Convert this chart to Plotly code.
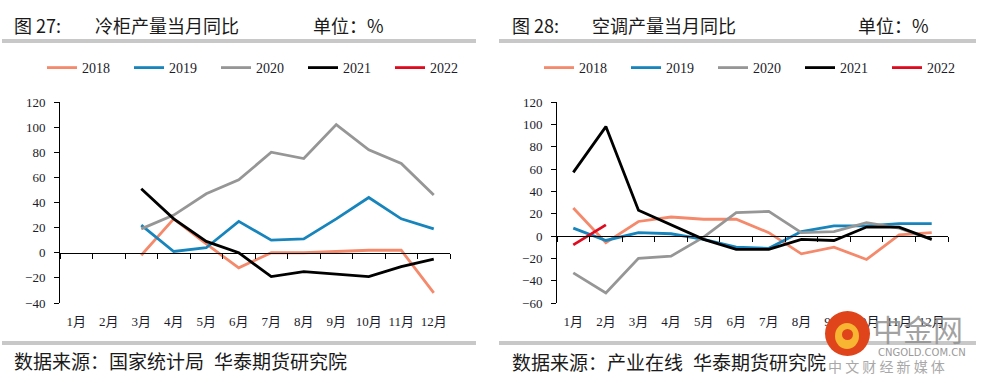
import plotly.graph_objects as go

# ---------------- data ----------------
months = ["1月", "2月", "3月", "4月", "5月", "6月", "7月", "8月", "9月", "10月", "11月", "12月"]
month_num = list(range(1, 13))
years = ["2018", "2019", "2020", "2021", "2022"]

# 冷柜产量当月同比 (%)
fridge_2018 = [None, None, -2, 27, 7, -12, 0, 0, 1, 2, 2, -32]
fridge_2019 = [None, None, 22, 1, 4, 25, 10, 11, 27, 44, 27, 19]
fridge_2020 = [None, None, 19, 30, 47, 58, 80, 75, 102, 82, 71, 46]
fridge_2021 = [None, None, 51, 27, 9, 0, -19, -15, -17, -19, -11, -5]
fridge_2022 = [None] * 12

# 空调产量当月同比 (%)
ac_2018 = [25, -6, 13, 17, 15, 15, 3, -16, -10, -21, 1, 3]
ac_2019 = [7, -4, 3, 2, -3, -10, -11, 4, 9, 9, 11, 11]
ac_2020 = [-33, -51, -20, -18, -1, 21, 22, 3, 4, 12, 7, -3]
ac_2021 = [57, 98, 23, 10, -3, -12, -12, -3, -4, 8, 8, -3]
ac_2022 = [-8, 10, None, None, None, None, None, None, None, None, None, None]

fridge_series = [fridge_2018, fridge_2019, fridge_2020, fridge_2021, fridge_2022]
ac_series = [ac_2018, ac_2019, ac_2020, ac_2021, ac_2022]

left_yrange = [-40, 120]
right_yrange = [-60, 120]

# ---------------- style ----------------
colors = ["#F4896B", "#1785BC", "#969696", "#000000", "#E00A1E"]
W, H = 981, 383
serif = "Liberation Serif, Times New Roman, Noto Sans CJK SC, serif"
cjk = "Noto Sans CJK SC, serif"
txt_color = "#1c1c2a"

ydom = [1 - 303 / H, 1 - 102 / H]
left_dom = [60 / W, 450 / W]
right_dom = [557 / W, 948 / W]


def zero_pos(rng):
    return ydom[0] + (0 - rng[0]) / (rng[1] - rng[0]) * (ydom[1] - ydom[0])


fig = go.Figure()

for yr, vals, c in zip(years, fridge_series, colors):
    fig.add_trace(go.Scatter(x=month_num, y=vals, mode="lines", name=yr,
                             line=dict(color=c, width=2.8), xaxis="x", yaxis="y",
                             legend="legend", connectgaps=False))
for yr, vals, c in zip(years, ac_series, colors):
    fig.add_trace(go.Scatter(x=month_num, y=vals, mode="lines", name=yr,
                             line=dict(color=c, width=2.8), xaxis="x2", yaxis="y2",
                             legend="legend2", connectgaps=False))

# empty traces to carry the zero-line axes
fig.add_trace(go.Scatter(x=[None], y=[None], xaxis="x3", yaxis="y", showlegend=False))
fig.add_trace(go.Scatter(x=[None], y=[None], xaxis="x4", yaxis="y2", showlegend=False))

boundary_vals = [m + 0.5 for m in [0] + month_num]

common_x = dict(range=[0.5, 12.5], showgrid=False, zeroline=False, showline=False,
                tickmode="array", tickvals=month_num, ticktext=months, ticks="", tickangle=0,
                tickfont=dict(family=serif, size=13, color=txt_color), ticklabelstandoff=9)
common_zero = dict(range=[0.5, 12.5], showgrid=False, zeroline=False, showline=True,
                   linecolor="#000", linewidth=1, tickmode="array", tickvals=boundary_vals,
                   ticks="outside", ticklen=5, tickcolor="#000", showticklabels=False,
                   anchor="free")
common_y = dict(showgrid=False, zeroline=False, showline=True, linecolor="#000", linewidth=1,
                ticks="outside", ticklen=5, tickcolor="#000", dtick=20,
                tickfont=dict(family=serif, size=13, color=txt_color), ticklabelstandoff=6)

legend_common = dict(orientation="h", xanchor="left", yanchor="middle",
                     entrywidth=42, entrywidthmode="pixels", bgcolor="rgba(0,0,0,0)",
                     font=dict(family=serif, size=14, color=txt_color), itemclick=False)

fig.update_layout(
    width=W, height=H, margin=dict(l=0, r=0, t=0, b=0, autoexpand=False),
    paper_bgcolor="white", plot_bgcolor="white",
    xaxis=dict(domain=left_dom, anchor="y", **common_x),
    yaxis=dict(domain=ydom, anchor="x", range=left_yrange, **common_y),
    xaxis2=dict(domain=right_dom, anchor="y2", **common_x),
    yaxis2=dict(domain=ydom, anchor="x2", range=right_yrange, **common_y),
    xaxis3=dict(overlaying="x", position=zero_pos(left_yrange), **common_zero),
    xaxis4=dict(overlaying="x2", position=zero_pos(right_yrange), **common_zero),
    legend=dict(x=42 / W, y=1 - 68 / H, **legend_common),
    legend2=dict(x=539 / W, y=1 - 68 / H, **legend_common),
    showlegend=True,
)

# separator bars
for x0, x1 in [(2, 476), (499, 976)]:
    fig.add_shape(type="line", xref="paper", yref="paper", x0=x0 / W, x1=x1 / W,
                  y0=1 - 41 / H, y1=1 - 41 / H, line=dict(color="#C8C8C8", width=4))
    fig.add_shape(type="line", xref="paper", yref="paper", x0=x0 / W, x1=x1 / W,
                  y0=1 - 343 / H, y1=1 - 343 / H, line=dict(color="#C8C8C8", width=4))


def ann(text, x, y, size=18, family=cjk, color="#1a1a1a", xanchor="left"):
    fig.add_annotation(text=text, x=x / W, y=1 - y / H, xref="paper", yref="paper",
                       xanchor=xanchor, yanchor="middle", showarrow=False,
                       font=dict(family=family, size=size, color=color))


# titles
ann("图 27:", 12, 25)
ann("冷柜产量当月同比", 93, 25)
ann("单位：%", 311, 25)
ann("图 28:", 510, 25)
ann("空调产量当月同比", 590, 25)
ann("单位：%", 856, 25)

# sources
ann("数据来源：国家统计局", 12, 360, size=19)
ann("华泰期货研究院", 212, 360, size=19)
ann("数据来源：产业在线", 510, 361, size=19)
ann("华泰期货研究院", 691, 361, size=19)

# watermark
fig.add_shape(type="circle", xref="paper", yref="paper",
              x0=825 / W, x1=870 / W, y0=1 - 356 / H, y1=1 - 311 / H,
              fillcolor="#E0441B", line=dict(width=0))
fig.add_shape(type="circle", xref="paper", yref="paper",
              x0=835 / W, x1=859 / W, y0=1 - 349 / H, y1=1 - 323 / H,
              fillcolor="#F7B531", line=dict(width=0))
fig.add_shape(type="circle", xref="paper", yref="paper",
              x0=842 / W, x1=853 / W, y0=1 - 340 / H, y1=1 - 329 / H,
              fillcolor="#E0441B", line=dict(width=0))
ann("中金网", 871, 328, size=30, family="Noto Sans CJK SC", color="rgba(145,145,145,0.85)")
ann("CNGOLD.COM.CN", 876, 352, size=10, family="DejaVu Sans", color="#9a9a9a")
ann("中 文 财 经 新 媒 体", 826, 366, size=14, family="Noto Sans CJK SC", color="#a8a8a8")

fig.write_html("out.html", config={"displayModeBar": False},
               post_script="document.body.style.margin='0px';document.body.style.padding='0px';")
